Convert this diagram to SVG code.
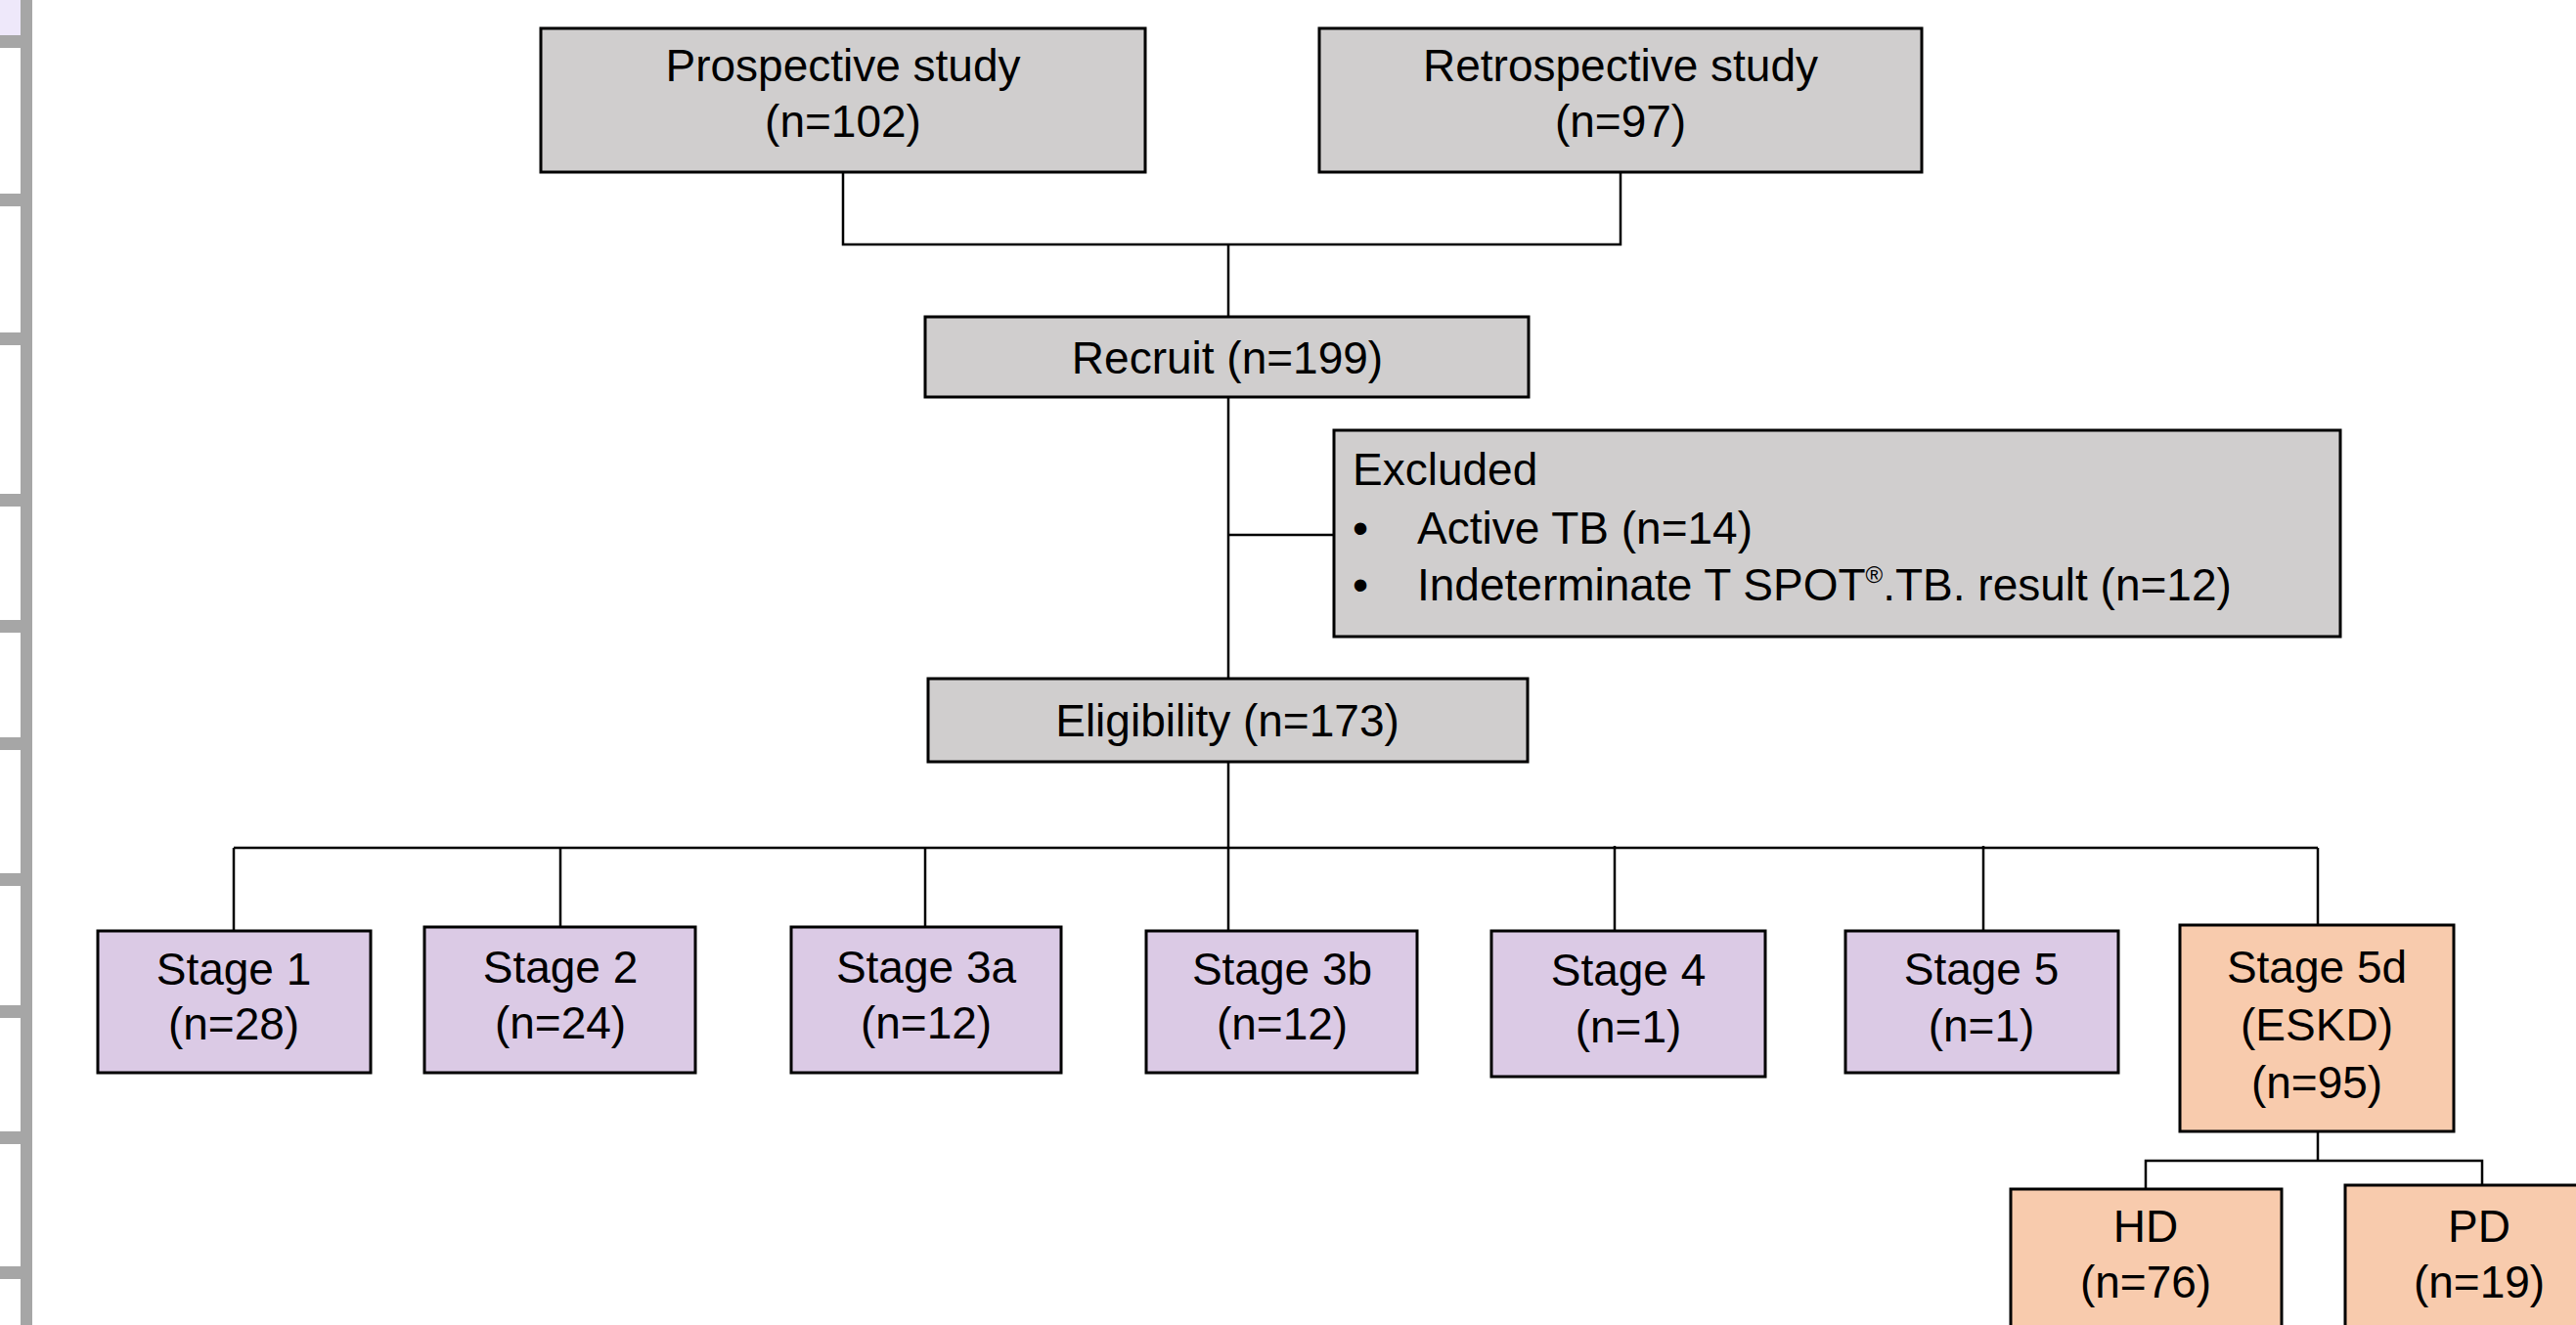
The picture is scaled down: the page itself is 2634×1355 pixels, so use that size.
<svg xmlns="http://www.w3.org/2000/svg" width="2634" height="1355" viewBox="0 0 2634 1355">
<style>
  .box { stroke: #000; stroke-width: 3; }
  .gray { fill: #D0CECE; }
  .lav { fill: #DBCAE5; }
  .peach { fill: #F8CBAD; }
  text { font-family: "Liberation Sans", Arial, sans-serif; font-size: 46px; fill: #000; }
  .c { text-anchor: middle; }
  .conn { stroke: #000; stroke-width: 2.5; fill: none; }
  .strip { fill: #A6A6A6; }
</style>
<rect width="2634" height="1355" fill="#FFFFFF"/>

<g id="left-strip">
  <rect x="0" y="0" width="21" height="36" fill="#EEE8FA"/>
  <rect class="strip" x="21" y="0" width="12" height="1355"/>
  <rect class="strip" x="0" y="36" width="33" height="13"/>
  <rect class="strip" x="0" y="198" width="33" height="13"/>
  <rect class="strip" x="0" y="340" width="33" height="13"/>
  <rect class="strip" x="0" y="505" width="33" height="13"/>
  <rect class="strip" x="0" y="634" width="33" height="13"/>
  <rect class="strip" x="0" y="754" width="33" height="13"/>
  <rect class="strip" x="0" y="893" width="33" height="13"/>
  <rect class="strip" x="0" y="1028" width="33" height="13"/>
  <rect class="strip" x="0" y="1157" width="33" height="13"/>
  <rect class="strip" x="0" y="1295" width="33" height="13"/>
</g>

<g id="connectors">
  <polyline class="conn" points="862,176 862,250 1657,250 1657,176"/>
  <line class="conn" x1="1256" y1="250" x2="1256" y2="324"/>
  <line class="conn" x1="1256" y1="406" x2="1256" y2="694"/>
  <line class="conn" x1="1256" y1="547" x2="1364" y2="547"/>
  <line class="conn" x1="1256" y1="779" x2="1256" y2="952"/>
  <line class="conn" x1="239" y1="867" x2="2370" y2="867"/>
  <line class="conn" x1="239" y1="867" x2="239" y2="952"/>
  <line class="conn" x1="573" y1="867" x2="573" y2="948"/>
  <line class="conn" x1="946" y1="867" x2="946" y2="948"/>
  <line class="conn" x1="1651" y1="865" x2="1651" y2="952"/>
  <line class="conn" x1="2028" y1="865" x2="2028" y2="952"/>
  <line class="conn" x1="2370" y1="867" x2="2370" y2="946"/>
  <line class="conn" x1="2370" y1="1157" x2="2370" y2="1187"/>
  <polyline class="conn" points="2194,1216 2194,1187 2538,1187 2538,1212"/>
</g>

<g id="prospective">
  <rect class="box gray" x="553" y="29" width="618" height="147"/>
  <text class="c" x="862" y="83">Prospective study</text>
  <text class="c" x="862" y="140">(n=102)</text>
</g>
<g id="retrospective">
  <rect class="box gray" x="1349" y="29" width="616" height="147"/>
  <text class="c" x="1657" y="83">Retrospective study</text>
  <text class="c" x="1657" y="140">(n=97)</text>
</g>
<g id="recruit">
  <rect class="box gray" x="946" y="324" width="617" height="82"/>
  <text class="c" x="1255" y="382">Recruit (n=199)</text>
</g>
<g id="excluded">
  <rect class="box gray" x="1364" y="440" width="1029" height="211"/>
  <text x="1383" y="496">Excluded</text>
  <text x="1383" y="556">•</text>
  <text x="1449" y="556">Active TB (n=14)</text>
  <text x="1383" y="614">•</text>
  <text x="1449" y="614">Indeterminate T SPOT<tspan font-size="24" dy="-18">®</tspan><tspan dy="18">.TB. result (n=12)</tspan></text>
</g>
<g id="eligibility">
  <rect class="box gray" x="949" y="694" width="613" height="85"/>
  <text class="c" x="1255" y="753">Eligibility (n=173)</text>
</g>

<g id="stage1">
  <rect class="box lav" x="100" y="952" width="279" height="145"/>
  <text class="c" x="239" y="1007">Stage 1</text>
  <text class="c" x="239" y="1063">(n=28)</text>
</g>
<g id="stage2">
  <rect class="box lav" x="434" y="948" width="277" height="149"/>
  <text class="c" x="573" y="1005">Stage 2</text>
  <text class="c" x="573" y="1062">(n=24)</text>
</g>
<g id="stage3a">
  <rect class="box lav" x="809" y="948" width="276" height="149"/>
  <text class="c" x="947" y="1005">Stage 3a</text>
  <text class="c" x="947" y="1062">(n=12)</text>
</g>
<g id="stage3b">
  <rect class="box lav" x="1172" y="952" width="277" height="145"/>
  <text class="c" x="1311" y="1007">Stage 3b</text>
  <text class="c" x="1311" y="1063">(n=12)</text>
</g>
<g id="stage4">
  <rect class="box lav" x="1525" y="952" width="280" height="149"/>
  <text class="c" x="1665" y="1008">Stage 4</text>
  <text class="c" x="1665" y="1066">(n=1)</text>
</g>
<g id="stage5">
  <rect class="box lav" x="1887" y="952" width="279" height="145"/>
  <text class="c" x="2026" y="1007">Stage 5</text>
  <text class="c" x="2026" y="1065">(n=1)</text>
</g>
<g id="stage5d">
  <rect class="box peach" x="2229" y="946" width="280" height="211"/>
  <text class="c" x="2369" y="1005">Stage 5d</text>
  <text class="c" x="2369" y="1064">(ESKD)</text>
  <text class="c" x="2369" y="1123">(n=95)</text>
</g>
<g id="hd">
  <rect class="box peach" x="2056" y="1216" width="277" height="160"/>
  <text class="c" x="2194" y="1270">HD</text>
  <text class="c" x="2194" y="1327">(n=76)</text>
</g>
<g id="pd">
  <rect class="box peach" x="2398" y="1212" width="274" height="164"/>
  <text class="c" x="2535" y="1270">PD</text>
  <text class="c" x="2535" y="1327">(n=19)</text>
</g>
</svg>
